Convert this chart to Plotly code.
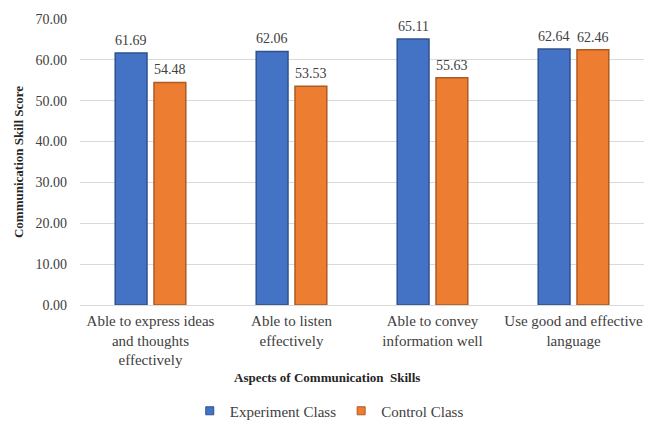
import plotly.graph_objects as go

categories = ["Able to express ideas<br>and thoughts<br>effectively",
              "Able to listen<br>effectively",
              "Able to convey<br>information well",
              "Use good and effective<br>language"]
experiment = [61.69, 62.06, 65.11, 62.64]
control = [54.48, 53.53, 55.63, 62.46]
tick_vals = [0, 10, 20, 30, 40, 50, 60, 70]

font_family = "Times New Roman, Liberation Serif, serif"
txt_color = "#404040"
blue, blue_edge = "#4472C4", "#2F528F"
orange, orange_edge = "#ED7D31", "#AE5A21"

fig = go.Figure()
fig.add_trace(go.Bar(
    name="Experiment Class", x=categories, y=experiment, offsetgroup="e",
    marker=dict(color=blue, line=dict(color=blue_edge, width=1.5)),
    showlegend=False, hoverinfo="x+y",
))
fig.add_trace(go.Bar(
    name="Control Class", x=categories, y=control, offsetgroup="c",
    marker=dict(color=orange, line=dict(color=orange_edge, width=1.5)),
    showlegend=False, hoverinfo="x+y",
))
# legend entries with small square symbols
fig.add_trace(go.Scatter(x=[None], y=[None], mode="markers", name="Experiment Class",
                         marker=dict(symbol="square", size=8, color=blue,
                                     line=dict(color=blue_edge, width=1))))
fig.add_trace(go.Scatter(x=[None], y=[None], mode="markers", name="Control Class",
                         marker=dict(symbol="square", size=8, color=orange,
                                     line=dict(color=orange_edge, width=1))))

# value labels above bars (shifted within each group)
annotations = []
for i, cat in enumerate(categories):
    for vals, dx in ((experiment, -19.5), (control, 19.5)):
        annotations.append(dict(
            x=cat, y=vals[i], text=f"{vals[i]:.2f}", showarrow=False,
            xshift=dx, yshift=3, yanchor="bottom",
            font=dict(family=font_family, size=14, color=txt_color)))

# x-axis title (centred on the whole chart, as in the original)
annotations.append(dict(
    x=0.438, y=-0.255, xref="paper", yref="paper", xanchor="center", yanchor="middle",
    text="<b>Aspects of Communication  Skills</b>", showarrow=False,
    font=dict(family=font_family, size=13, color="#262626")))

fig.update_layout(
    width=652, height=422,
    margin=dict(l=80, r=8, t=19, b=117),
    paper_bgcolor="white", plot_bgcolor="white",
    barmode="group", bargap=0.45, bargroupgap=0.18,
    font=dict(family=font_family, size=14, color=txt_color),
    showlegend=True,
    legend=dict(orientation="h", x=0.505, xref="container", xanchor="center",
                y=0.026, yref="container", yanchor="middle",
                font=dict(family=font_family, size=15, color=txt_color),
                itemwidth=30, traceorder="normal", tracegroupgap=0),
    annotations=annotations,
)
fig.update_yaxes(
    range=[0, 70], tickvals=tick_vals,
    ticktext=[f"{v:.2f}" for v in tick_vals],
    showgrid=True, gridcolor="#D9D9D9", gridwidth=1,
    zeroline=True, zerolinecolor="#D9D9D9", zerolinewidth=1,
    tickfont=dict(family=font_family, size=14, color=txt_color),
    title=dict(text="<b>Communication Skill Score</b>",
               font=dict(family=font_family, size=13, color="#262626"), standoff=8),
    ticks="", ticklabelstandoff=12, automargin=False,
)
fig.update_xaxes(
    tickfont=dict(family=font_family, size=15, color=txt_color),
    showline=False, ticks="", ticklabelstandoff=5, automargin=False,
)

fig.write_html("out.html")
